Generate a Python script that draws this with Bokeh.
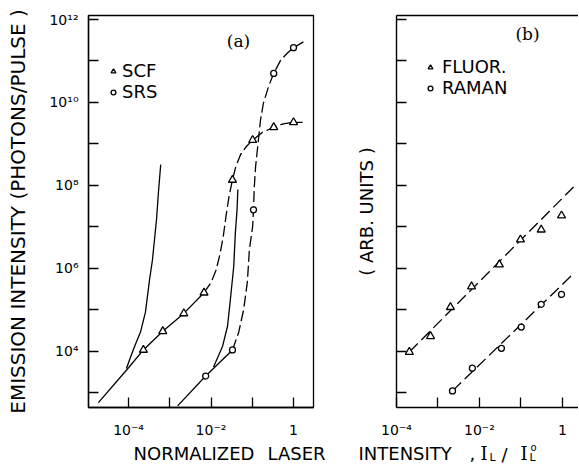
from bokeh.plotting import figure
from bokeh.models import FixedTicker, Legend, LegendItem, Label, LogAxis, Range1d
from bokeh.layouts import row, column
from bokeh.embed import file_html
from bokeh.resources import INLINE

SANS = "DejaVu Sans"
SERIF = "DejaVu Serif"
INK = "black"

# ---------------- data : panel (a) ----------------
scf_x = [2.29e-4, 6.76e-4, 2.19e-3, 6.76e-3, 3.31e-2, 1.02e-1, 3.31e-1, 1.0]
scf_y = [1.07e4, 3.02e4, 8.13e4, 2.57e5, 1.35e8, 1.23e9, 2.51e9, 3.31e9]
srs_x = [7.41e-3, 3.31e-2, 1.07e-1, 3.31e-1, 1.0]
srs_y = [2.51e3, 1.07e4, 2.57e7, 5.01e10, 2.09e11]

scf_solid_x = [1.86e-5, 1.0e-4, 2.29e-4, 6.76e-4, 2.19e-3, 6.76e-3]
scf_solid_y = [575, 3.98e3, 1.07e4, 3.02e4, 8.13e4, 2.57e5]
scf_dash_x = [6.76e-3, 1.0e-2, 1.32e-2, 1.66e-2, 2.0e-2, 2.34e-2, 2.75e-2, 3.31e-2,
              3.98e-2, 5.25e-2, 7.08e-2, 1.02e-1, 1.78e-1, 3.31e-1, 5.62e-1, 1.0, 1.66]
scf_dash_y = [2.57e5, 4.47e5, 8.91e5, 2.24e6, 6.31e6, 2.0e7, 5.62e7, 1.35e8,
              2.82e8, 5.62e8, 8.51e8, 1.23e9, 1.91e9, 2.51e9, 3.02e9, 3.31e9, 3.31e9]

srs_solid_x = [1.55e-3, 7.41e-3, 3.31e-2]
srs_solid_y = [479, 2.51e3, 1.07e4]
srs_dash_x = [3.31e-2, 4.68e-2, 6.17e-2, 7.59e-2, 8.51e-2, 1.02e-1, 1.07e-1, 1.12e-1, 1.20e-1,
              1.35e-1, 1.58e-1, 1.86e-1, 2.51e-1, 3.31e-1, 4.9e-1, 7.24e-1, 1.0, 1.74]
srs_dash_y = [1.07e4, 2.82e4, 1.0e5, 4.57e5, 2.82e6, 1.0e7, 2.57e7, 9.12e7, 2.75e8,
              8.32e8, 3.72e9, 9.55e9, 2.51e10, 5.01e10, 1.05e11, 1.58e11, 2.09e11, 2.88e11]

theory1_x = [8.9e-5, 1.12e-4, 1.48e-4, 1.95e-4, 2.57e-4, 3.24e-4, 3.8e-4, 4.27e-4, 4.79e-4, 5.37e-4, 6.03e-4]
theory1_y = [3.8e3, 7.24e3, 1.48e4, 2.88e4, 8.71e4, 5.37e5, 1.58e6, 5.01e6, 1.58e7, 7.94e7, 3.16e8]
theory2_x = [1.15e-2, 1.91e-2, 2.51e-2, 2.95e-2, 3.55e-2, 3.89e-2, 4.27e-2, 4.47e-2]
theory2_y = [4.17e3, 1.32e4, 3.98e4, 1.78e5, 1.1e6, 7.24e6, 2.51e7, 7.94e7]

# ---------------- data : panel (b) ----------------
fluor_x = [2.04e-4, 6.61e-4, 2.0e-3, 6.46e-3, 3.02e-2, 9.77e-2, 3.09e-1, 0.955]
fluor_y = [9.55e3, 2.29e4, 1.15e5, 3.63e5, 1.23e6, 4.9e6, 8.51e6, 1.86e7]
fluor_fit_x = [2.04e-4, 1.86]
fluor_fit_y = [9.55e3, 9.12e7]
raman_x = [2.24e-3, 6.76e-3, 3.39e-2, 1.02e-1, 3.09e-1, 0.955]
raman_y = [1.1e3, 3.89e3, 1.17e4, 3.8e4, 1.35e5, 2.34e5]
raman_fit_x = [2.24e-3, 1.86]
raman_fit_y = [1.1e3, 7.41e5]

# ---------------- ticks ----------------
x_ticks = [1e-4, 1e-3, 1e-2, 1e-1, 1.0]
x_tick_labels = ["10⁻⁴", "", "10⁻²", "", "1"]
y_ticks = [1e3, 1e4, 1e5, 1e6, 1e7, 1e8, 1e9, 1e10, 1e11, 1e12]
y_tick_labels = ["", "10⁴", "", "10⁶", "", "10⁸", "", "10¹⁰", "", "10¹²"]


def js_key(t):
    s = "%.6f" % t
    return s.rstrip("0").rstrip(".")


def overrides(ticks, labels):
    d = {}
    for t, l in zip(ticks, labels):
        d[float(t)] = l
        d[js_key(t)] = l
    return d


def style_axis(ax, ticks, labels, font_size="14px", standoff=8):
    ax.ticker = FixedTicker(ticks=ticks)
    ax.major_label_overrides = overrides(ticks, labels)
    ax.axis_line_color = INK
    ax.axis_line_width = 1.4
    ax.major_tick_line_color = INK
    ax.major_tick_line_width = 1.3
    ax.major_tick_in = 10
    ax.major_tick_out = 0
    ax.minor_tick_line_color = None
    ax.major_label_text_font = SANS
    ax.major_label_text_font_size = font_size
    ax.major_label_text_color = INK
    ax.major_label_standoff = standoff
    ax.axis_label_text_font = SANS
    ax.axis_label_text_font_style = "normal"
    ax.axis_label_text_color = INK
    ax.axis_label_text_font_size = "20px"


def base_fig(width, xr, border_left, border_right):
    p = figure(width=width, height=440, x_axis_type="log", y_axis_type="log",
               x_range=xr, y_range=Range1d(437, 1.25e12),
               output_backend="svg", toolbar_location=None,
               min_border_left=border_left, min_border_right=border_right,
               min_border_top=15, min_border_bottom=31)
    p.xgrid.visible = False
    p.ygrid.visible = False
    p.background_fill_color = "white"
    p.border_fill_color = "white"
    return p


LINE_W = 1.3

# ================= panel (a) =================
pa = base_fig(330, Range1d(1.07e-5, 3.05), 88, 17)
pa.outline_line_color = INK
pa.outline_line_width = 1.3
style_axis(pa.xaxis[0], x_ticks, x_tick_labels, standoff=14)
style_axis(pa.yaxis[0], y_ticks, y_tick_labels, standoff=10)
pa.yaxis[0].axis_label = "EMISSION INTENSITY (PHOTONS/PULSE )"
pa.yaxis[0].axis_label_standoff = 16

pa.line(scf_solid_x, scf_solid_y, line_color=INK, line_width=LINE_W)
pa.line(scf_dash_x, scf_dash_y, line_color=INK, line_width=LINE_W, line_dash="11 4")
pa.line(srs_solid_x, srs_solid_y, line_color=INK, line_width=LINE_W)
pa.line(srs_dash_x, srs_dash_y, line_color=INK, line_width=LINE_W, line_dash="11 4")
pa.line(theory1_x, theory1_y, line_color=INK, line_width=LINE_W)
pa.line(theory2_x, theory2_y, line_color=INK, line_width=LINE_W)
r_scf = pa.scatter(scf_x, scf_y, marker="triangle", size=8, fill_color="white",
                   line_color=INK, line_width=1.3)
r_srs = pa.scatter(srs_x, srs_y, marker="circle", size=6, fill_color="white",
                   line_color=INK, line_width=1.3)


def make_legend(items, loc, standoff):
    return Legend(items=items, location=loc, padding=0, margin=0, spacing=0,
                  glyph_width=12, glyph_height=14, label_height=18,
                  label_standoff=standoff, border_line_color=None,
                  background_fill_alpha=0, label_text_font=SANS,
                  label_text_font_size="18px", label_text_color=INK)


pa.add_layout(make_legend([LegendItem(label="SCF", renderers=[r_scf]),
                           LegendItem(label="SRS", renderers=[r_srs])], (19, 305), 3))
pa.add_layout(Label(x=150, y=367, x_units="screen", y_units="screen", text="(a)",
                    text_font=SERIF, text_font_size="17px", text_color=INK,
                    text_align="center", text_baseline="middle"))

# ================= panel (b) =================
pb = base_fig(248, Range1d(1e-4, 2.45), 66, 0)
pb.outline_line_color = None
style_axis(pb.xaxis[0], x_ticks, x_tick_labels, standoff=14)
style_axis(pb.yaxis[0], y_ticks, [""] * len(y_ticks), font_size="0px", standoff=0)
pb.yaxis[0].axis_label = "( ARB. UNITS )"
pb.yaxis[0].axis_label_standoff = 20
pb.yaxis[0].axis_label_text_font_size = "18px"

top_axis = LogAxis(ticker=FixedTicker(ticks=[]), major_label_text_font_size="0px",
                   major_label_standoff=0, major_tick_out=0, major_tick_in=0,
                   minor_tick_line_color=None, axis_line_color=INK, axis_line_width=1.4)
pb.add_layout(top_axis, "above")

pb.line(fluor_fit_x, fluor_fit_y, line_color=INK, line_width=LINE_W, line_dash="12 5")
pb.line(raman_fit_x, raman_fit_y, line_color=INK, line_width=LINE_W, line_dash="12 5")
r_fl = pb.scatter(fluor_x, fluor_y, marker="triangle", size=8, fill_color="white",
                  line_color=INK, line_width=1.3)
r_ra = pb.scatter(raman_x, raman_y, marker="circle", size=6, fill_color="white",
                  line_color=INK, line_width=1.3)
pb.add_layout(make_legend([LegendItem(label="FLUOR.", renderers=[r_fl]),
                           LegendItem(label="RAMAN", renderers=[r_ra])], (28, 309), 6))
pb.add_layout(Label(x=131, y=374, x_units="screen", y_units="screen", text="(b)",
                    text_font=SERIF, text_font_size="17px", text_color=INK,
                    text_align="center", text_baseline="middle"))

# ================= shared x label (own strip below both panels) =================
pl = figure(width=578, height=24, x_range=Range1d(0, 578), y_range=Range1d(0, 24),
            output_backend="svg", toolbar_location=None, min_border=0,
            x_axis_location=None, y_axis_location=None)
pl.outline_line_color = None
pl.xgrid.visible = False
pl.ygrid.visible = False
pl.background_fill_color = "white"
pl.border_fill_color = "white"

label_parts = [
    ("NORMALIZED", 133, 11, SANS, "18px"),
    ("LASER", 267, 11, SANS, "18px"),
    ("INTENSITY", 358, 11, SANS, "18px"),
    (",", 469, 11, SANS, "18px"),
    ("I", 480, 11, SERIF, "18px"),
    ("L", 489, 7, SANS, "11px"),
    ("/", 501, 10, SANS, "18px"),
    ("I", 520, 11, SERIF, "18px"),
    ("L", 529, 7, SANS, "11px"),
    ("o", 530, 17, SANS, "10px"),
]
for txt, x, y, font, size in label_parts:
    pl.add_layout(Label(x=x, y=y, text=txt, text_font=font, text_font_size=size,
                        text_color=INK, text_align="left", text_baseline="alphabetic"))

layout = column(row(pa, pb), pl)
open("out.html", "w").write(file_html(layout, INLINE))
